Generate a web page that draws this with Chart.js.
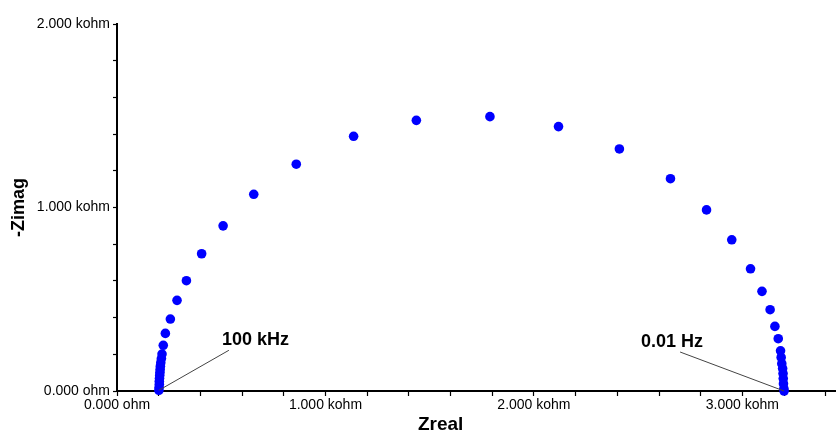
<!DOCTYPE html>
<html><head><meta charset="utf-8">
<script src="https://cdn.jsdelivr.net/npm/chart.js@4/dist/chart.umd.min.js"></script>
<style>html,body{margin:0;padding:0;background:#fff;overflow:hidden;width:836px;height:433px}</style>
</head><body>
<canvas id="c" width="841" height="433"></canvas>
<script>
// Nyquist data (ohm), ordered from 100 kHz (left) to 0.01 Hz (right)
const zreal = [201,202,203,203,204,205,206,207,208,210,213,216,222,232,256,288,333,406,509,656,860,1135,1436,1789,2118,2410,2655,2828,2949,3039,3094,3133,3156,3172,3183,3186,3189,3193,3195,3196,3197,3199,3200];
const zimag = [4,20,37,53,69,86,102,118,135,154,177,201,249,314,392,494,601,748,900,1072,1236,1388,1475,1495,1441,1319,1157,987,824,666,543,443,352,285,219,183,149,122,95,68,40,13,0];

const xTickValues = [0,1000,2000,3000];
const xTickLabels = ['0.000 ohm','1.000 kohm','2.000 kohm','3.000 kohm'];
const yTickValues = [0,1000,2000];
const yTickLabels = ['0.000 ohm','1.000 kohm','2.000 kohm'];
const xTitle = 'Zreal';
const yTitle = '-Zimag';
const annotationLabels = ['100 kHz','0.01 Hz'];

const FONT = '"Liberation Sans", Arial, sans-serif';

function labelFor(values, labels){
  return function(v){ const i = values.indexOf(v); return i >= 0 ? labels[i] : ''; };
}

const annotPlugin = {
  id: 'annot',
  afterDatasetsDraw(chart){
    const ctx = chart.ctx;
    const meta = chart.getDatasetMeta(0);
    const specs = [
      {i: 0, text: annotationLabels[0], lx: 70, ly: -40, tx: 63, ty: -45},
      {i: zreal.length - 1, text: annotationLabels[1], lx: -104, ly: -39, tx: -143, ty: -44}
    ];
    ctx.save();
    specs.forEach(s => {
      const p = meta.data[s.i];
      ctx.strokeStyle = '#444';
      ctx.lineWidth = 1;
      ctx.beginPath();
      ctx.moveTo(p.x, p.y);
      ctx.lineTo(p.x + s.lx, p.y + s.ly);
      ctx.stroke();
      ctx.fillStyle = '#000';
      ctx.font = 'bold 18px ' + FONT;
      ctx.textAlign = 'left';
      ctx.textBaseline = 'alphabetic';
      ctx.fillText(s.text, p.x + s.tx, p.y + s.ty);
    });
    ctx.restore();
  },
  afterDraw(chart){
    const ctx = chart.ctx;
    const a = chart.chartArea;
    ctx.save();
    ctx.fillStyle = '#000';
    ctx.font = 'bold 19px ' + FONT;
    ctx.textAlign = 'center';
    ctx.textBaseline = 'middle';
    ctx.fillText(xTitle, (a.left + a.right) / 2 - 36, a.bottom + 34);
    ctx.restore();
  }
};

new Chart(document.getElementById('c'), {
  type: 'scatter',
  data: {
    datasets: [{
      data: zreal.map((x, i) => ({x: x, y: zimag[i]})),
      backgroundColor: '#0000FF',
      borderColor: '#0000FF',
      borderWidth: 0,
      pointRadius: 4.8,
      pointHoverRadius: 4.8,
      showLine: false,
      clip: false
    }]
  },
  options: {
    responsive: false,
    animation: false,
    devicePixelRatio: 1,
    layout: {padding: {top: 24, right: 0, left: 0, bottom: 0}},
    plugins: {legend: {display: false}, tooltip: {enabled: false}, title: {display: false}},
    scales: {
      x: {
        type: 'linear', min: 0, max: 3450,
        afterFit(s){ s.height = 42; },
        border: {display: true, color: '#000', width: 2},
        grid: {drawOnChartArea: false, drawTicks: true, tickLength: 5, color: '#000', tickWidth: 1.2},
        ticks: {stepSize: 200, includeBounds: false, autoSkip: false, maxRotation: 0, padding: 1,
          color: '#000', font: {family: FONT, size: 14},
          callback: labelFor(xTickValues, xTickLabels)},
        title: {display: false}
      },
      y: {
        type: 'linear', min: 0, max: 2000,
        afterFit(s){ s.width = 117; },
        border: {display: true, color: '#000', width: 2},
        grid: {drawOnChartArea: false, drawTicks: true, tickLength: 4, color: '#000', tickWidth: 1.2},
        ticks: {stepSize: 200, includeBounds: false, autoSkip: false, padding: 3,
          color: '#000', font: {family: FONT, size: 14},
          callback: labelFor(yTickValues, yTickLabels)},
        title: {display: true, text: yTitle, color: '#000', font: {family: FONT, size: 18, weight: 'bold'}, padding: {top: 8, bottom: 0}}
      }
    }
  },
  plugins: [annotPlugin]
});
</script>
</body></html>
